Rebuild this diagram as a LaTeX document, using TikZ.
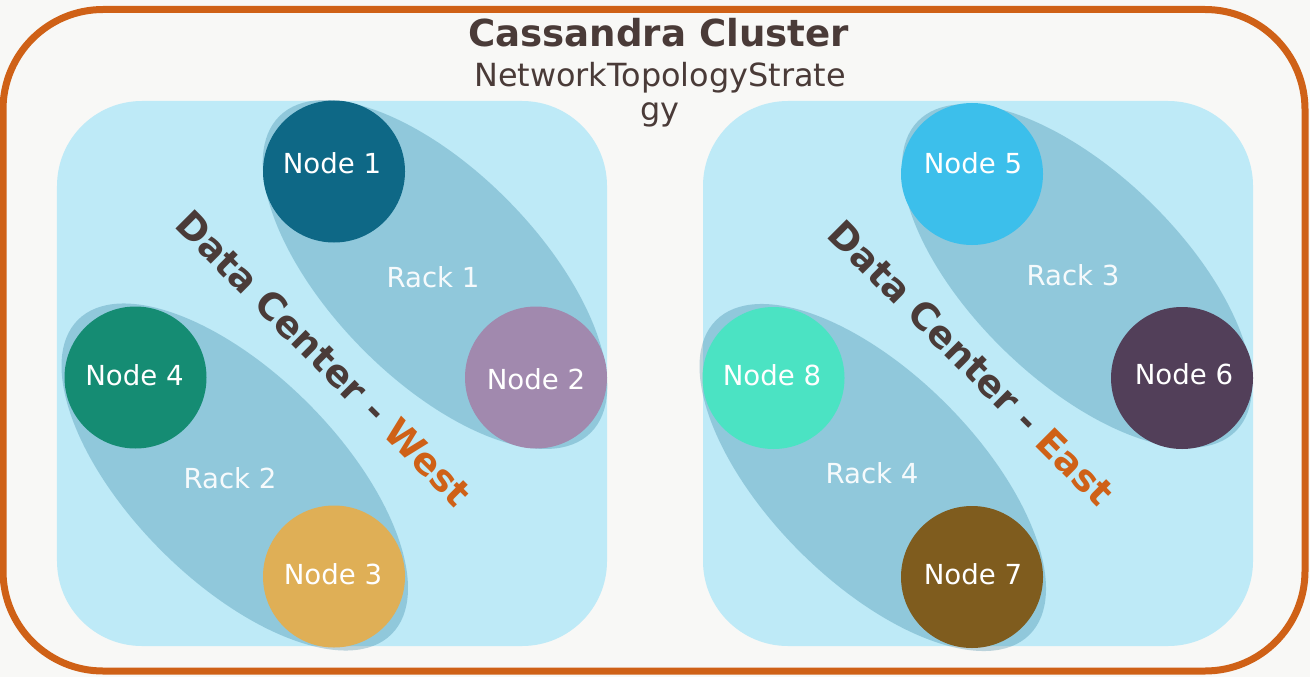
\documentclass[tikz,border=0pt]{standalone}
\usepackage{fontspec}
\setmainfont{DejaVu Sans}
\usetikzlibrary{shapes.geometric}
\definecolor{bgc}{HTML}{F8F8F6}
\definecolor{orangec}{HTML}{CF6117}
\definecolor{brownc}{HTML}{4A3B38}
\definecolor{dcblue}{HTML}{BEEAF7}
\definecolor{rackc}{HTML}{0A668B}
\definecolor{cnA}{HTML}{0E6886}
\definecolor{cnB}{HTML}{A189AE}
\definecolor{cnC}{HTML}{DFAF56}
\definecolor{cnD}{HTML}{158C73}
\definecolor{cnE}{HTML}{3CBFEB}
\definecolor{cnF}{HTML}{523F59}
\definecolor{cnG}{HTML}{7F5C1E}
\definecolor{cnH}{HTML}{4BE3C3}
\begin{document}
\begin{tikzpicture}[x=1bp,y=-1bp,
  dcbox/.style={rectangle, fill=dcblue, rounded corners=85bp, minimum width=550bp, minimum height=545bp, inner sep=0pt},
  rackell/.style={ellipse, fill=rackc, fill opacity=0.25, minimum width=444bp, minimum height=208bp, inner sep=0pt},
  srv/.style={circle, minimum size=142bp, inner sep=0pt},
  srvtxt/.style={text=white, inner sep=0pt, font=\fontsize{27.7}{33}\selectfont},
  racktxt/.style={text=white, text opacity=0.92, inner sep=0pt, font=\fontsize{27.7}{33}\selectfont},
  dctxt/.style={text=brownc, inner sep=0pt, font=\bfseries\fontsize{37.4}{44}\selectfont},
]
\useasboundingbox (0,0) rectangle (1310,677);
\fill[bgc] (0,0) rectangle (1310,677);
\draw[orangec, line width=7bp, rounded corners=100bp] (3,9.5) rectangle (1305,671);

% titles
\node[anchor=base, text=brownc, inner sep=0pt, font=\bfseries\fontsize{37.3}{44}\selectfont] (title) at (658.5,47) {Cassandra Cluster};
\node[anchor=base, text=brownc, inner sep=0pt, font=\fontsize{32}{36}\selectfont] (subA) at (660,87) {NetworkTopologyStrate};
\node[anchor=base, text=brownc, inner sep=0pt, font=\fontsize{32}{36}\selectfont] (subB) at (660,121) {gy};

% data centers
\node[dcbox] (west) at (332,373.5) {};
\node[dcbox] (east) at (978,373.5) {};

% racks
\node[rackell, rotate=-45.56] (rackA) at (435,274.5) {};
\node[rackell, rotate=-45.07] (rackB) at (234.75,477) {};
\node[rackell, rotate=-44.17] (rackC) at (1077,276) {};
\node[rackell, rotate=-45.07] (rackD) at (872.75,477.5) {};

\node[racktxt] (rackAt) at (433,277) {Rack 1};
\node[racktxt] (rackBt) at (230,478.5) {Rack 2};
\node[racktxt] (rackCt) at (1073,275) {Rack 3};
\node[racktxt] (rackDt) at (872,473.5) {Rack 4};

% servers
\node[srv, fill=cnA] (nA) at (334,171.5) {};
\node[srv, fill=cnB] (nB) at (536,377.5) {};
\node[srv, fill=cnC] (nC) at (334,576.5) {};
\node[srv, fill=cnD] (nD) at (135.5,377.5) {};
\node[srv, fill=cnE] (nE) at (972,174) {};
\node[srv, fill=cnF] (nF) at (1182,378) {};
\node[srv, fill=cnG] (nG) at (972,577) {};
\node[srv, fill=cnH] (nH) at (773.5,378) {};

\node[srvtxt] (nAt) at (332,163.5) {Node 1};
\node[srvtxt] (nBt) at (536,379.5) {Node 2};
\node[srvtxt] (nCt) at (333,574.5) {Node 3};
\node[srvtxt] (nDt) at (134.5,375) {Node 4};
\node[srvtxt] (nEt) at (973,163.5) {Node 5};
\node[srvtxt] (nFt) at (1184,374) {Node 6};
\node[srvtxt] (nGt) at (973,574.5) {Node 7};
\node[srvtxt] (nHt) at (772,375.5) {Node 8};

% data center labels
\node[dctxt, rotate=-45] (westt) at (324,358) {Data Center - \textcolor{orangec}{West}};
\node[dctxt, rotate=-45] (eastt) at (971.5,363) {Data Center - \textcolor{orangec}{East}};
\end{tikzpicture}
\end{document}
